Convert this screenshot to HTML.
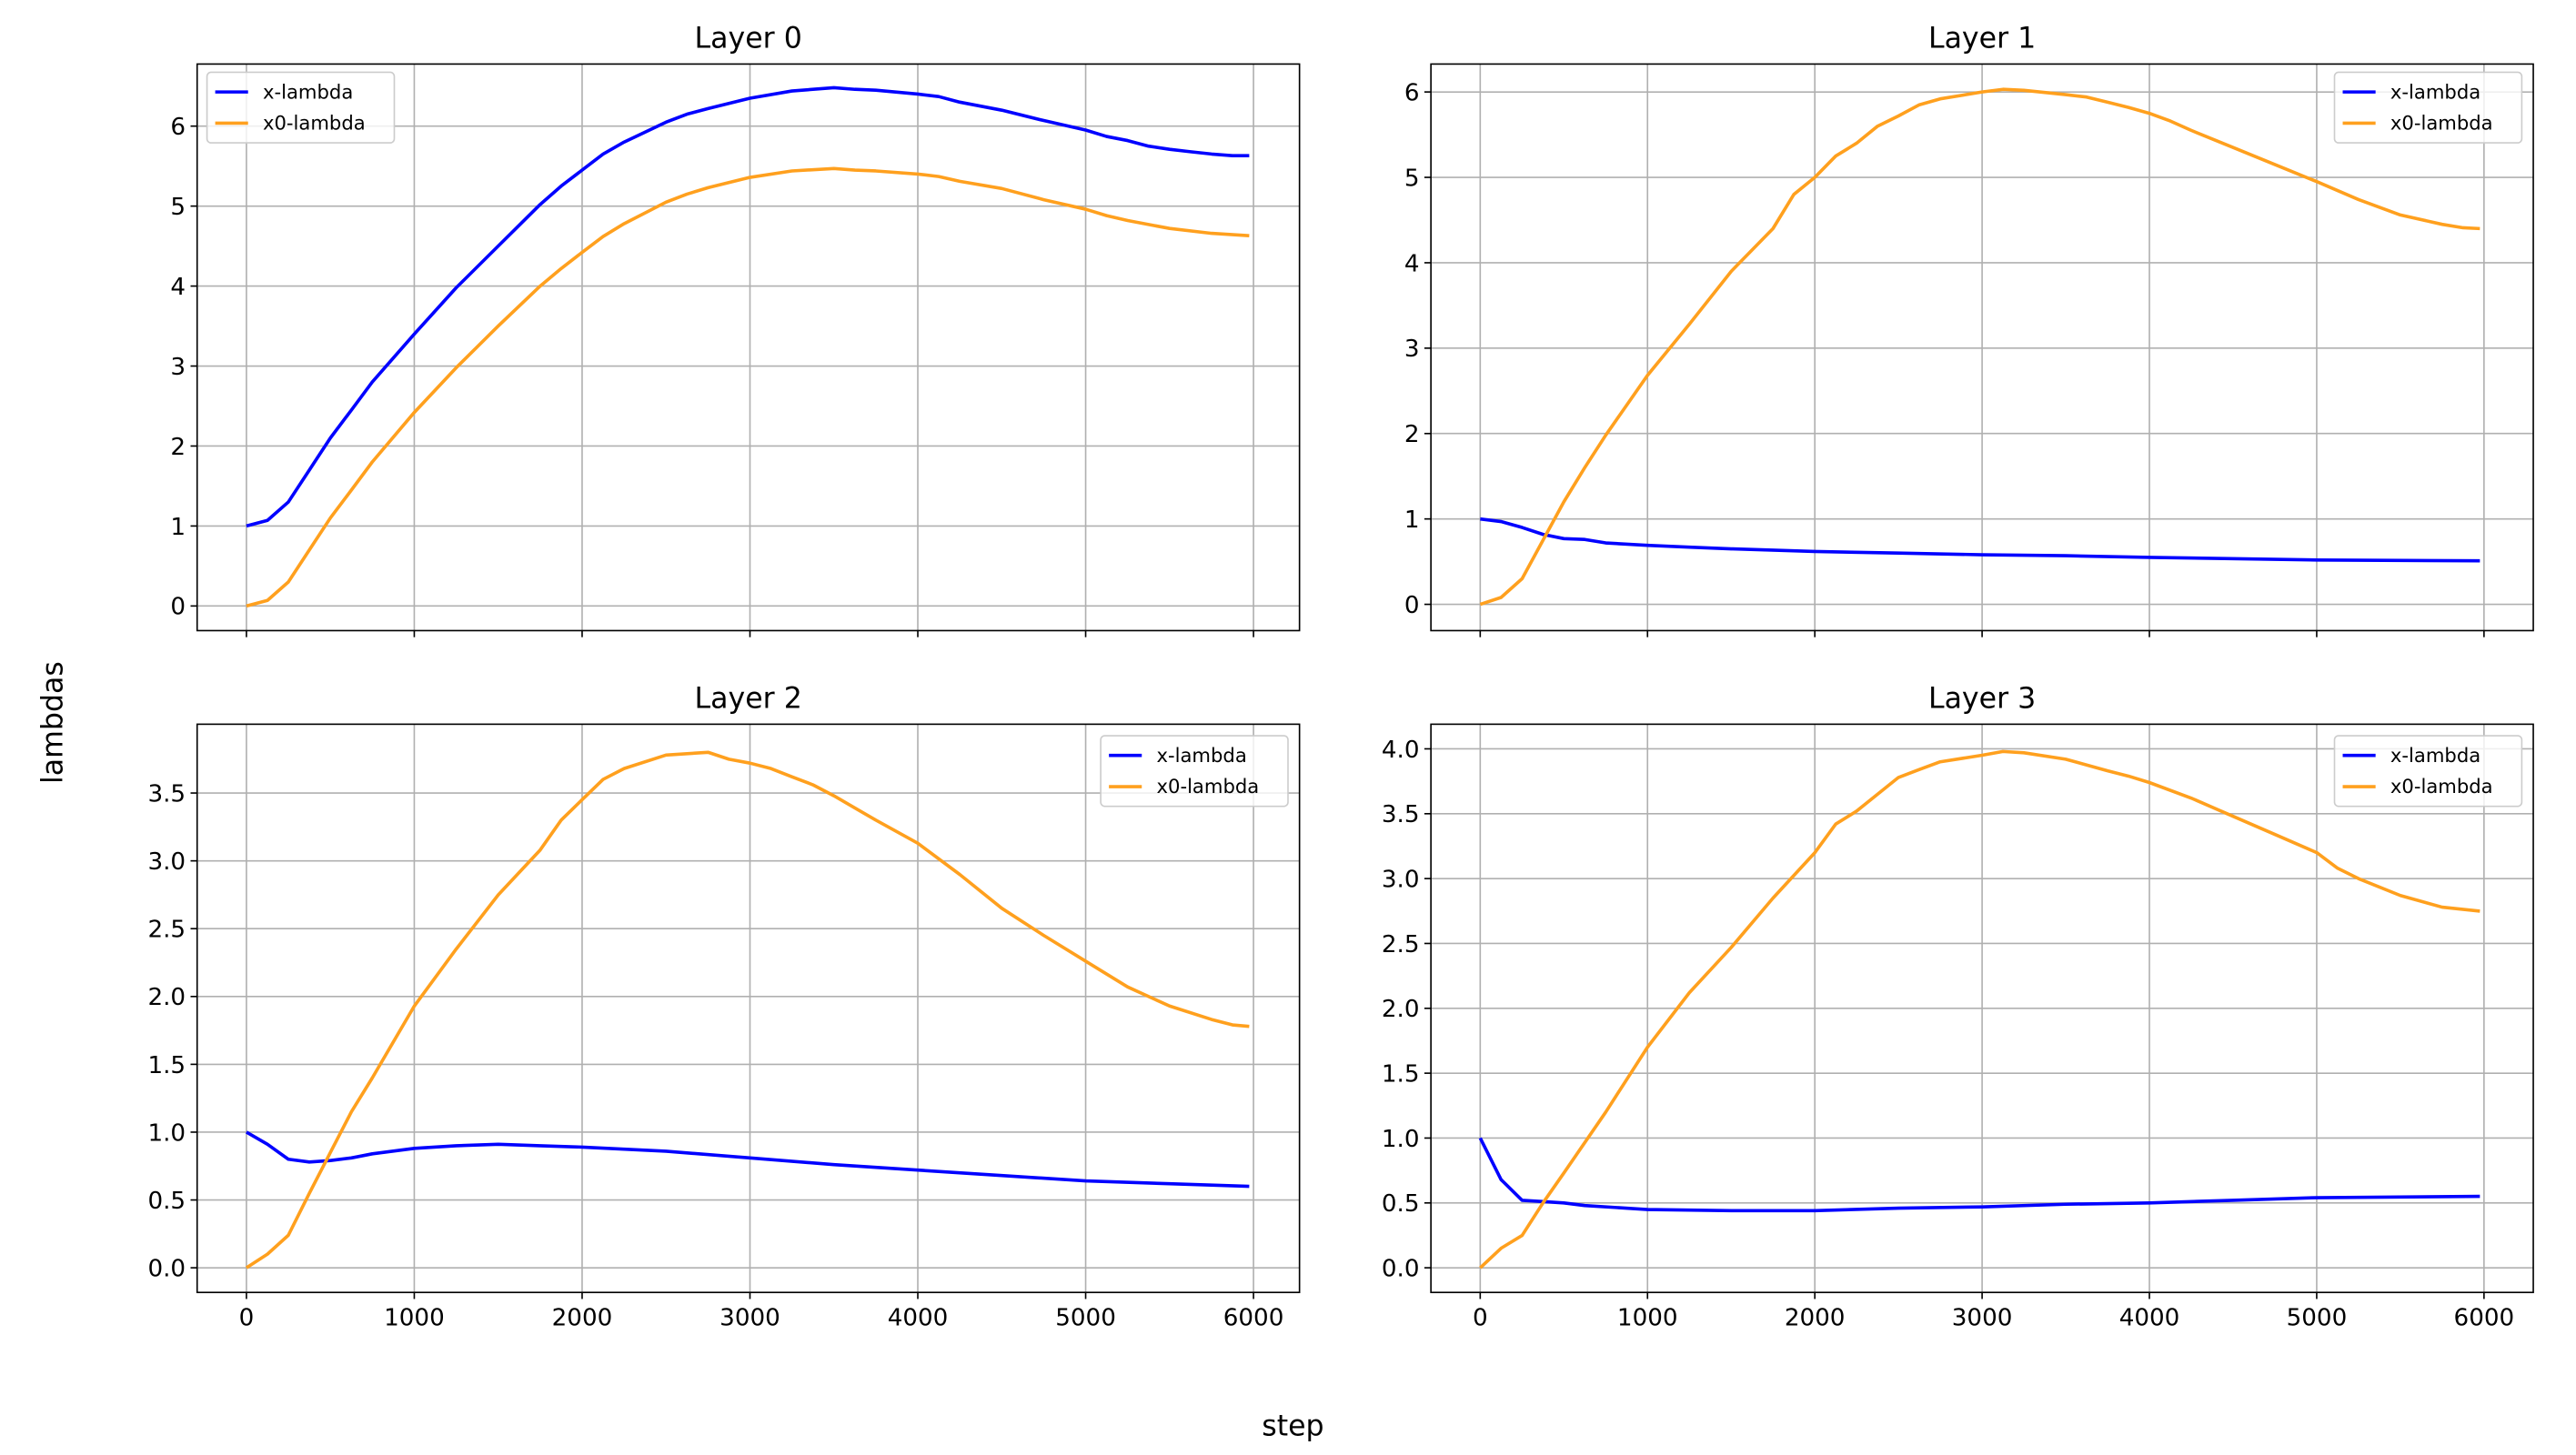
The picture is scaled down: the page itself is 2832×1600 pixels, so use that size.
<!DOCTYPE html>
<html><head><meta charset="utf-8"><style>
html,body{margin:0;padding:0;background:#fff}
svg{display:block}
text{font-family:"DejaVu Sans","Liberation Sans",sans-serif;fill:#000}
</style></head><body>
<svg id="s" width="2832" height="1600" viewBox="0 0 1568 886" preserveAspectRatio="none" xmlns="http://www.w3.org/2000/svg"></svg>
<script>
const S=document.getElementById('s');const NS='http://www.w3.org/2000/svg';
function el(t,a,txt){const e=document.createElementNS(NS,t);for(const k in a)e.setAttribute(k,a[k]);if(txt!==undefined)e.textContent=txt;S.appendChild(e);return e;}
function P(s){const a=s.split(',').map(p=>p.trim().split(':').map(Number));return a;}
const panels=[
{title:'Layer 0',x0:120,x1:791,y0:39,y1:384,sx0:150,sx6:763,yz:369,yu:48.7,ticks:[0,1,2,3,4,5,6],fmt:v=>String(v),leg:[126,44],
 a:P('0:1.0,125:1.07,250:1.3,375:1.7,500:2.1,625:2.45,750:2.8,1000:3.4,1250:3.98,1500:4.5,1750:5.02,1875:5.25,2000:5.45,2125:5.65,2250:5.8,2500:6.05,2625:6.15,2750:6.22,3000:6.35,3250:6.44,3500:6.48,3625:6.46,3750:6.45,4000:6.4,4125:6.37,4250:6.3,4500:6.2,4750:6.07,5000:5.95,5125:5.87,5250:5.82,5375:5.75,5500:5.71,5625:5.68,5750:5.65,5875:5.63,5975:5.63'),
 b:P('0:0,125:0.07,250:0.3,375:0.7,500:1.1,625:1.45,750:1.8,1000:2.42,1250:2.98,1500:3.5,1750:4.0,1875:4.22,2000:4.42,2125:4.62,2250:4.78,2500:5.05,2625:5.15,2750:5.23,3000:5.36,3250:5.44,3500:5.47,3625:5.45,3750:5.44,4000:5.4,4125:5.37,4250:5.31,4500:5.22,4750:5.08,5000:4.96,5125:4.88,5250:4.82,5500:4.72,5750:4.66,5975:4.63')},
{title:'Layer 1',x0:871,x1:1542,y0:39,y1:384,sx0:901,sx6:1512,yz:368,yu:52,ticks:[0,1,2,3,4,5,6],fmt:v=>String(v),leg:[1421,44],
 a:P('0:1.0,125:0.97,250:0.9,375:0.82,500:0.77,625:0.76,750:0.72,1000:0.69,1250:0.67,1500:0.65,2000:0.62,2500:0.6,3000:0.58,3500:0.57,4000:0.55,5000:0.52,5975:0.51'),
 b:P('0:0,125:0.08,250:0.3,375:0.75,500:1.2,625:1.6,750:1.98,1000:2.68,1250:3.28,1500:3.9,1750:4.4,1875:4.8,2000:5.0,2125:5.25,2250:5.4,2375:5.6,2500:5.72,2625:5.85,2750:5.92,3000:6.0,3125:6.03,3250:6.02,3500:5.97,3625:5.94,3750:5.88,3875:5.82,4000:5.75,4125:5.66,4250:5.55,4500:5.35,4750:5.15,5000:4.95,5250:4.74,5500:4.56,5750:4.45,5875:4.41,5975:4.4')},
{title:'Layer 2',x0:120,x1:791,y0:441,y1:787,sx0:150,sx6:763,yz:772,yu:82.6,ticks:[0,0.5,1,1.5,2,2.5,3,3.5],fmt:v=>v.toFixed(1),leg:[670,448],xl:true,
 a:P('0:1.0,125:0.91,250:0.8,375:0.78,500:0.79,625:0.81,750:0.84,1000:0.88,1250:0.9,1500:0.91,1750:0.9,2000:0.89,2500:0.86,3000:0.81,3500:0.76,4000:0.72,4500:0.68,5000:0.64,5500:0.62,5975:0.6'),
 b:P('0:0,125:0.1,250:0.24,375:0.55,500:0.85,625:1.15,750:1.4,1000:1.93,1250:2.35,1500:2.75,1750:3.08,1875:3.3,2000:3.45,2125:3.6,2250:3.68,2500:3.78,2750:3.8,2875:3.75,3000:3.72,3125:3.68,3250:3.62,3375:3.56,3500:3.48,3750:3.3,4000:3.13,4250:2.9,4500:2.65,4750:2.45,5000:2.26,5250:2.07,5500:1.93,5750:1.83,5875:1.79,5975:1.78')},
{title:'Layer 3',x0:871,x1:1542,y0:441,y1:787,sx0:901,sx6:1512,yz:772,yu:79,ticks:[0,0.5,1,1.5,2,2.5,3,3.5,4],fmt:v=>v.toFixed(1),leg:[1421,448],xl:true,
 a:P('0:1.0,125:0.68,250:0.52,375:0.51,500:0.5,625:0.48,1000:0.45,1500:0.44,2000:0.44,2500:0.46,3000:0.47,3500:0.49,4000:0.5,4500:0.52,5000:0.54,5975:0.55'),
 b:P('0:0,125:0.15,250:0.25,375:0.5,500:0.73,750:1.2,1000:1.7,1250:2.12,1500:2.47,1750:2.85,2000:3.2,2125:3.42,2250:3.52,2500:3.78,2625:3.84,2750:3.9,3000:3.95,3125:3.98,3250:3.97,3500:3.92,3750:3.83,3875:3.79,4000:3.74,4250:3.62,4500:3.48,4750:3.34,5000:3.2,5125:3.08,5250:3.0,5500:2.87,5750:2.78,5975:2.75')}
];
for(const p of panels){
 const X=s=>p.sx0+(p.sx6-p.sx0)*s/6000, Y=v=>p.yz-v*p.yu;
 for(let s=0;s<=6000;s+=1000){const x=X(s);el('line',{x1:x,x2:x,y1:p.y0,y2:p.y1,stroke:'#b0b0b0','stroke-width':0.9});
  el('line',{x1:x,x2:x,y1:p.y1,y2:p.y1+4,stroke:'#000','stroke-width':0.9});
  if(p.xl)el('text',{x:x,y:807,'font-size':14.5,'text-anchor':'middle'},String(s));}
 for(const v of p.ticks){const y=Y(v);el('line',{x1:p.x0,x2:p.x1,y1:y,y2:y,stroke:'#b0b0b0','stroke-width':0.9});
  el('line',{x1:p.x0-4,x2:p.x0,y1:y,y2:y,stroke:'#000','stroke-width':0.9});
  el('text',{x:p.x0-7,y:y+5.2,'font-size':14.5,'text-anchor':'end'},p.fmt(v));}
 const pts=a=>a.map(q=>X(q[0]).toFixed(1)+','+Y(q[1]).toFixed(1)).join(' ');
 el('polyline',{points:pts(p.a),fill:'none',stroke:'#0000ff','stroke-width':2,'stroke-linejoin':'round'});
 el('polyline',{points:pts(p.b),fill:'none',stroke:'#ffa01e','stroke-width':2,'stroke-linejoin':'round'});
 el('rect',{x:p.x0,y:p.y0,width:p.x1-p.x0,height:p.y1-p.y0,fill:'none',stroke:'#000','stroke-width':0.9});
 el('text',{x:(p.x0+p.x1)/2,y:p.y0-10,'font-size':17.5,'text-anchor':'middle'},p.title);
 const [lx,ly]=p.leg;
 el('rect',{x:lx,y:ly,width:114,height:43,rx:2.5,fill:'#fff','fill-opacity':0.8,stroke:'#ccc','stroke-width':0.9});
 el('line',{x1:lx+5,x2:lx+25,y1:ly+12,y2:ly+12,stroke:'#0000ff','stroke-width':2});
 el('line',{x1:lx+5,x2:lx+25,y1:ly+31,y2:ly+31,stroke:'#ffa01e','stroke-width':2});
 el('text',{x:lx+34,y:ly+16,'font-size':11.7},'x-lambda');
 el('text',{x:lx+34,y:ly+35,'font-size':11.7},'x0-lambda');
}
el('text',{x:787,y:874,'font-size':17.5,'text-anchor':'middle'},'step');
el('text',{x:38,y:440,'font-size':17.5,'text-anchor':'middle',transform:'rotate(-90 38 440)'},'lambdas');
</script>
</body></html>
